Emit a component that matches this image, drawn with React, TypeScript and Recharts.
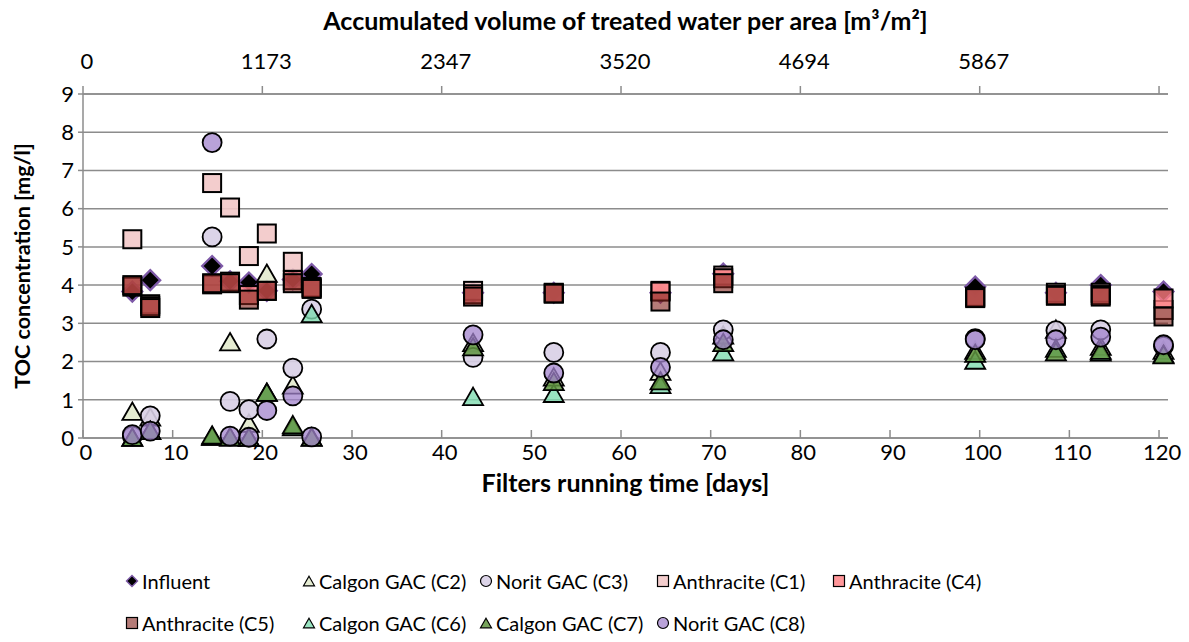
import { ScatterChart, Scatter, XAxis, YAxis, CartesianGrid } from 'recharts'

const days = [5.5, 7.5, 14.4, 16.4, 18.5, 20.5, 23.4, 25.5, 43.5, 52.5, 64.4, 71.4, 99.5, 108.5, 113.5, 120.5]

const influent = [3.83, 4.13, 4.5, 4.1, 4.07, 3.85, 4.15, 4.29, 3.8, 3.8, 3.8, 4.3, 3.96, 3.8, 4.0, 3.83]
const calgonC2 = [0.7, 0.55, 0.05, 2.52, 0.39, 4.31, 1.39, 0.03, 2.5, 1.6, 1.75, 2.7, 2.3, 2.85, 2.4, 2.3]
const noritC3 = [0.05, 0.58, 5.26, 0.96, 0.74, 2.59, 1.83, 3.37, 2.11, 2.24, 2.24, 2.83, 2.6, 2.81, 2.83, 2.4]
const anthraciteC1 = [5.2, 3.5, 6.67, 6.03, 4.76, 5.35, 4.61, 3.95, 3.85, 3.8, 3.85, 4.25, 3.7, 3.8, 3.8, 3.35]
const anthraciteC4 = [3.96, 3.45, 4.02, 4.09, 3.74, 3.85, 4.13, 3.92, 3.76, 3.78, 3.83, 4.18, 3.68, 3.74, 3.74, 3.65]
const anthraciteC5 = [4.0, 3.4, 4.05, 4.05, 3.62, 3.85, 4.05, 3.9, 3.7, 3.78, 3.57, 4.05, 3.66, 3.72, 3.7, 3.18]
const calgonC6 = [0.02, 0.2, 0.05, 0.03, 0.02, 1.2, 0.3, 3.26, 1.09, 1.17, 1.4, 2.26, 2.04, 2.35, 2.25, 2.2]
const calgonC7 = [0.02, 0.2, 0.08, 0.03, 0.02, 1.2, 0.35, 0.02, 2.39, 1.48, 1.5, 2.5, 2.22, 2.26, 2.3, 2.18]
const noritC8 = [0.09, 0.18, 7.73, 0.05, 0.02, 0.72, 1.1, 0.03, 2.7, 1.7, 1.85, 2.57, 2.57, 2.57, 2.64, 2.44]

const dayTicks = [0, 10, 20, 30, 40, 50, 60, 70, 80, 90, 100, 110, 120]
const volumeTicks = [0, 1173.33, 2346.67, 3520, 4693.33, 5866.67, 7040]
const volumeLabels = ['0', '1173', '2347', '3520', '4694', '5867', '']
const concTicks = [0, 1, 2, 3, 4, 5, 6, 7, 8, 9]

const volumePerDay = 7040 / 120
const dayMax = 121

type Marker = 'diamond' | 'triangle' | 'circle' | 'square'

interface SeriesDef {
  name: string
  values: number[]
  marker: Marker
  fill: string
  opacity: number
  stroke: string
}

const series: SeriesDef[] = [
  { name: 'Influent', values: influent, marker: 'diamond', fill: '#000000', opacity: 1, stroke: '#7e5aa8' },
  { name: 'Calgon GAC (C2)', values: calgonC2, marker: 'triangle', fill: '#e2eacd', opacity: 0.9, stroke: '#000' },
  { name: 'Norit GAC (C3)', values: noritC3, marker: 'circle', fill: '#d8cfe6', opacity: 0.9, stroke: '#000' },
  { name: 'Anthracite (C1)', values: anthraciteC1, marker: 'square', fill: '#f2c8c8', opacity: 0.9, stroke: '#000' },
  { name: 'Anthracite (C4)', values: anthraciteC4, marker: 'square', fill: '#ff7c80', opacity: 0.8, stroke: '#000' },
  { name: 'Anthracite (C5)', values: anthraciteC5, marker: 'square', fill: '#84251e', opacity: 0.6, stroke: '#000' },
  { name: 'Calgon GAC (C6)', values: calgonC6, marker: 'triangle', fill: '#7fdcb0', opacity: 0.8, stroke: '#000' },
  { name: 'Calgon GAC (C7)', values: calgonC7, marker: 'triangle', fill: '#5f9440', opacity: 0.85, stroke: '#000' },
  { name: 'Norit GAC (C8)', values: noritC8, marker: 'circle', fill: '#a283cc', opacity: 0.75, stroke: '#000' },
]

const font = 'Lato, "Open Sans", sans-serif'

function MarkerGlyph({ cx, cy, s, def }: { cx: number; cy: number; s: number; def: SeriesDef }) {
  const common = { fill: def.fill, fillOpacity: def.opacity, stroke: def.stroke }
  if (def.marker === 'diamond') {
    return <polygon points={`${cx},${cy - s} ${cx + s},${cy} ${cx},${cy + s} ${cx - s},${cy}`} {...common} strokeWidth={s > 6 ? 2.2 : 1.4} />
  }
  if (def.marker === 'triangle') {
    const h = s * 0.87
    return <polygon points={`${cx},${cy - h} ${cx + s},${cy + h} ${cx - s},${cy + h}`} {...common} strokeWidth={s > 6 ? 1.8 : 1.2} />
  }
  if (def.marker === 'circle') {
    return <circle cx={cx} cy={cy} r={s} {...common} strokeWidth={s > 6 ? 1.8 : 1.2} />
  }
  return <rect x={cx - s} y={cy - s} width={s * 2} height={s * 2} {...common} strokeWidth={s > 6 ? 2 : 1.2} />
}

const markerSize: Record<Marker, number> = { diamond: 10, triangle: 10, circle: 9.5, square: 9 }

function Legend() {
  const colX = [125, 302, 479, 656, 832]
  const rowY = [568, 610]
  return (
    <>
      {series.map((def, i) => {
        const row = i < 5 ? 0 : 1
        const col = i < 5 ? i : i - 5
        return (
          <div
            key={def.name}
            style={{ position: 'absolute', left: colX[col], top: rowY[row], height: 26, display: 'flex', alignItems: 'center', fontFamily: font, fontSize: 20, color: '#000', whiteSpace: 'nowrap' }}
          >
            <svg width={14} height={14} style={{ marginRight: 3 }}>
              <MarkerGlyph cx={7} cy={7} s={5.5} def={def} />
            </svg>
            {def.name}
          </div>
        )
      })}
    </>
  )
}

export default function App() {
  const tickStyle = { fontFamily: font, fontSize: 22, fill: '#000' }
  const titleStyle = { fontFamily: font, fontSize: 25, fontWeight: 700, fill: '#000' }
  return (
    <div style={{ position: 'absolute', left: 0, top: 0, width: 1189, height: 642, background: '#fff' }}>
      <ScatterChart width={1189} height={642} margin={{ top: 10, right: 21, bottom: 148, left: 0 }}>
        <CartesianGrid vertical={false} stroke="#8c8c8c" strokeWidth={1.5} />
        <XAxis
          xAxisId="days"
          dataKey="day"
          type="number"
          domain={[0, dayMax]}
          ticks={dayTicks}
          interval={0}
          height={56}
          tickSize={-8}
          tickMargin={14}
          tick={{ ...tickStyle, dx: 3 }}
          axisLine={{ stroke: '#8c8c8c', strokeWidth: 1.5 }}
          tickLine={{ stroke: '#8c8c8c', strokeWidth: 1.5 }}
          label={{ value: 'Filters running time [days]', position: 'insideBottom', offset: 2, style: titleStyle }}
        />
        <XAxis
          xAxisId="vol"
          dataKey="vol"
          orientation="top"
          type="number"
          domain={[0, dayMax * volumePerDay]}
          allowDataOverflow
          ticks={volumeTicks}
          interval={0}
          height={84}
          tickSize={8}
          tickMargin={17}
          tickFormatter={(_v: number, i: number) => volumeLabels[i] ?? ''}
          tick={{ ...tickStyle, dx: 4 }}
          axisLine={{ stroke: '#8c8c8c', strokeWidth: 1.5 }}
          tickLine={{ stroke: '#8c8c8c', strokeWidth: 1.5 }}
          label={{ value: 'Accumulated volume of treated water per area [m³/m²]', position: 'insideTop', offset: 2, style: titleStyle }}
        />
        <YAxis
          dataKey="toc"
          type="number"
          domain={[0, 9]}
          ticks={concTicks}
          interval={0}
          width={83}
          tickSize={5}
          tickMargin={4}
          tick={tickStyle}
          axisLine={{ stroke: '#8c8c8c', strokeWidth: 1.5 }}
          tickLine={{ stroke: '#8c8c8c', strokeWidth: 1.5 }}
          label={{ value: 'TOC concentration [mg/l]', angle: -90, position: 'insideLeft', offset: 22, style: { ...titleStyle, fontSize: 21.5, textAnchor: 'middle' } }}
        />
        {/* influent plotted again against the volume axis, invisibly, so the top axis is drawn */}
        <Scatter
          name="volume"
          xAxisId="vol"
          data={days.map((d, i) => ({ vol: d * volumePerDay, toc: influent[i] }))}
          isAnimationActive={false}
          legendType="none"
          shape={() => <g />}
        />
        {series.map((def) => (
          <Scatter
            key={def.name}
            name={def.name}
            xAxisId="days"
            data={days.map((d, i) => ({ day: d, toc: def.values[i] }))}
            isAnimationActive={false}
            shape={(p: any) => <MarkerGlyph cx={p.cx} cy={p.cy} s={markerSize[def.marker]} def={def} />}
          />
        ))}
      </ScatterChart>
      <Legend />
    </div>
  )
}
